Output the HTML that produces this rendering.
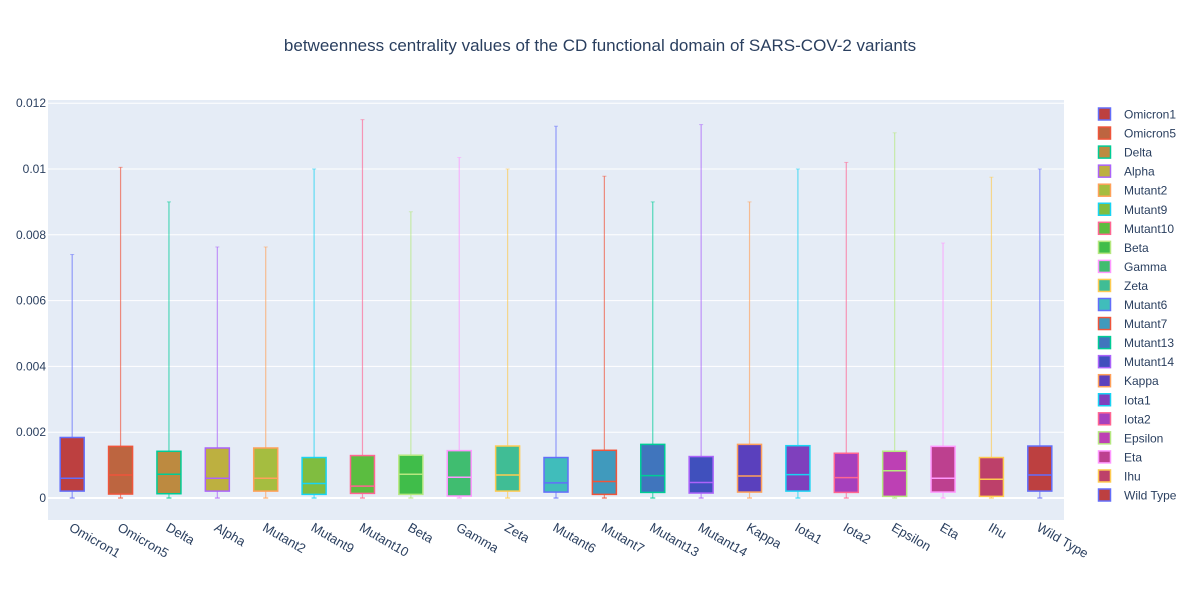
<!DOCTYPE html>
<html><head><meta charset="utf-8">
<style>
body{margin:0;background:#fff;}
svg{display:block;font-family:"Liberation Sans",Arial,sans-serif;}
</style></head>
<body>
<svg id="chart" width="1200" height="600">
<rect x="0" y="0" width="1200" height="600" fill="#fff"/>
<rect x="48" y="100" width="1016" height="420" fill="#e5ecf6"/>
<text x="600" y="51" text-anchor="middle" font-size="17" fill="#2a3f5f">betweenness centrality values of the CD functional domain of SARS-COV-2 variants</text>
<g id="grid"></g><g id="boxes"></g><g id="xlabels"></g><g id="legend"></g>
</svg>
<script>
const categories=["Omicron1","Omicron5","Delta","Alpha","Mutant2","Mutant9","Mutant10","Beta","Gamma","Zeta","Mutant6","Mutant7","Mutant13","Mutant14","Kappa","Iota1","Iota2","Epsilon","Eta","Ihu","Wild Type"];
const q1Values=[0.00021,0.00012,0.00013,0.00021,0.00021,0.00011,0.00014,0.00011,0.00006,0.00021,0.00018,0.00011,0.00017,0.00015,0.00018,0.00021,0.00017,0.00005,0.00018,0.00005,0.00021];
const medianValues=[0.0006,0.0007,0.00072,0.0006,0.0006,0.00044,0.00036,0.00072,0.00063,0.0007,0.00046,0.0005,0.00068,0.00047,0.00067,0.00071,0.00062,0.00083,0.0006,0.00057,0.0007];
const q3Values=[0.00184,0.00157,0.00142,0.00152,0.00152,0.00123,0.00129,0.0013,0.00144,0.00158,0.00123,0.00145,0.00163,0.00126,0.00163,0.00159,0.00136,0.00142,0.00157,0.00123,0.00158];
const minValues=[0,0,0,0,0,0,0,0,0,0,0,0,0,0,0,0,0,0,0,0,0];
const maxValues=[0.0074,0.01005,0.009,0.00763,0.00763,0.01,0.0115,0.0087,0.01035,0.01,0.0113,0.00978,0.009,0.01135,0.009,0.01,0.0102,0.0111,0.00775,0.00975,0.01];
const yTicks=[0,0.002,0.004,0.006,0.008,0.01,0.012];
const yTickLabels=["0","0.002","0.004","0.006","0.008","0.01","0.012"];
const fills=["#bd4040","#bd6540","#bd8a40","#bdb040","#a5bd40","#80bd40","#5bbd40","#40bd4a","#40bd70","#40bd95","#40bdbb","#409abd","#4075bd","#4050bd","#5a40bd","#7f40bd","#a540bd","#bd40b4","#bd408f","#bd406a","#bd4040"];
const lines=["#636efa","#EF553B","#00cc96","#ab63fa","#FFA15A","#19d3f3","#FF6692","#B6E880","#FF97FF","#FECB52"];
const NS="http://www.w3.org/2000/svg";
function y(v){return 498-v*32900;}
function x(i){return 48+1016/categories.length*(i+0.5);}
function mk(tag,attrs,parent){const e=document.createElementNS(NS,tag);for(const k in attrs)e.setAttribute(k,attrs[k]);parent.appendChild(e);return e;}
const grid=document.getElementById('grid');
yTicks.forEach((t,i)=>{
  const l=mk('line',{x1:48,x2:1064,y1:y(t),y2:y(t),stroke:'#fff','stroke-width':t===0?2:1},grid);
  
  
  const tx=mk('text',{x:46,y:y(t)+4,'text-anchor':'end','font-size':12,fill:'#2a3f5f'},grid);
  tx.textContent=yTickLabels[i];
  
  
});
const boxes=document.getElementById('boxes');
const xl=document.getElementById('xlabels');
const leg=document.getElementById('legend');
categories.forEach((c,i)=>{
  const cx=x(i),lc=lines[i%lines.length],w=24;
  const g=mk('g',{},boxes);
  
  
  mk('line',{x1:cx,x2:cx,y1:y(maxValues[i]),y2:y(q3Values[i]),stroke:lc,'stroke-width':1.2,'stroke-opacity':0.65},g);
  mk('line',{x1:cx,x2:cx,y1:y(q1Values[i]),y2:y(minValues[i]),stroke:lc,'stroke-width':1.2,'stroke-opacity':0.65},g);
  mk('line',{x1:cx-2,x2:cx+2,y1:y(maxValues[i]),y2:y(maxValues[i]),stroke:lc,'stroke-width':1,'stroke-opacity':0.5},g);
  mk('line',{x1:cx-2.5,x2:cx+2.5,y1:y(minValues[i]),y2:y(minValues[i]),stroke:lc,'stroke-width':2,'stroke-opacity':0.5},g);
  mk('rect',{x:cx-w/2,y:y(q3Values[i]),width:w,height:y(q1Values[i])-y(q3Values[i]),fill:fills[i],stroke:lc,'stroke-width':1.5},g);
  mk('line',{x1:cx-w/2,x2:cx+w/2,y1:y(medianValues[i]),y2:y(medianValues[i]),stroke:lc,'stroke-width':1.5},g);
  const t=mk('text',{x:0,y:0,'font-size':13,fill:'#2a3f5f',transform:`translate(${cx-4},${530}) rotate(30)`},xl);
  t.textContent=c;
  
  
  const ly=114+19.05*i;
  const lg=mk('g',{},leg);
  
  
  mk('rect',{x:1098.5,y:ly-6,width:12,height:12,fill:fills[i],stroke:lc,'stroke-width':1.5},lg);
  const lt=mk('text',{x:1124,y:ly+4.5,'font-size':12,fill:'#2a3f5f'},lg);
  lt.textContent=c;
});
</script>
</body></html>
